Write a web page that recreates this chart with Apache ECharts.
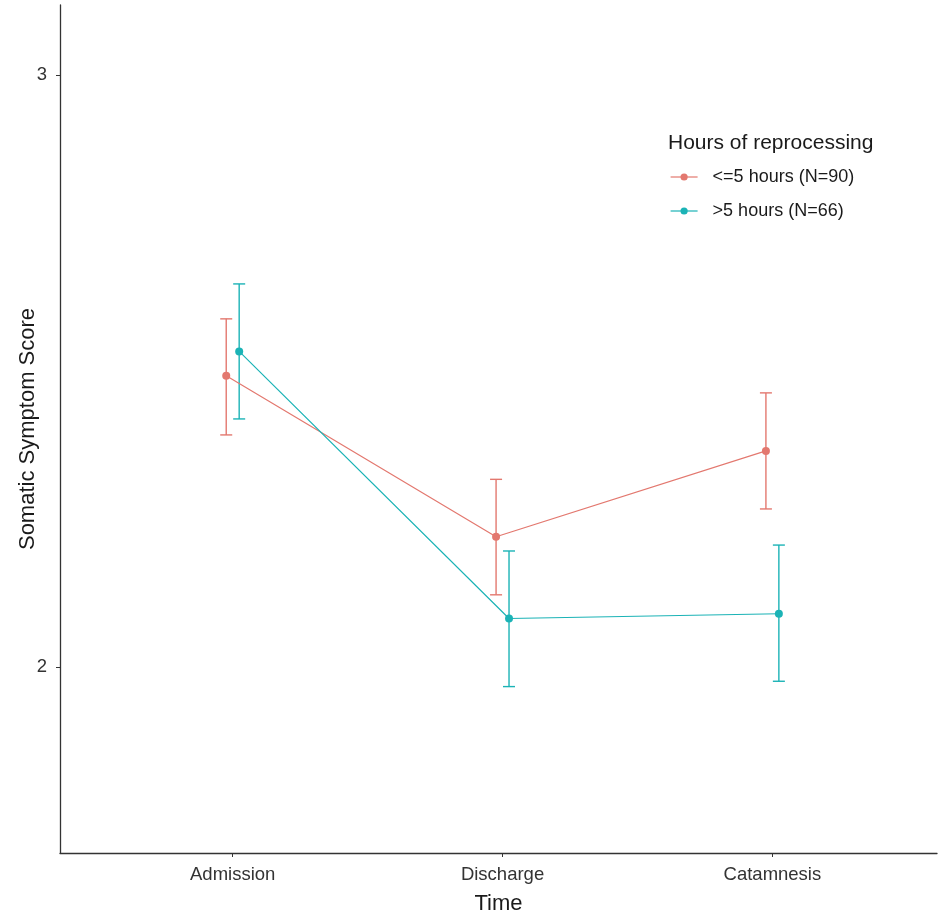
<!DOCTYPE html>
<html>
<head>
<meta charset="utf-8">
<script src="https://cdn.jsdelivr.net/npm/echarts@6/dist/echarts.min.js"></script>
<style>html,body{margin:0;padding:0;background:#fff}#c{width:939px;height:914px}</style>
</head>
<body>
<div id="c"></div>
<script>
const categories = ['Admission', 'Discharge', 'Catamnesis'];
const groupNames = ['<=5 hours (N=90)', '>5 hours (N=66)'];
const lowMean = [2.492, 2.220, 2.365];
const lowLower = [2.392, 2.122, 2.267];
const lowUpper = [2.588, 2.317, 2.463];
const highMean = [2.533, 2.082, 2.090];
const highLower = [2.419, 1.967, 1.976];
const highUpper = [2.647, 2.196, 2.206];
const yTicks = [2, 3];

const colors = ['#E3786F', '#1BB3B6'];
const DODGE = 0.024;
const FONT = 'Liberation Sans, Arial, sans-serif';

function pts(means, off) { return means.map((m, i) => [i + 1 + off, m]); }
function bars(lo, hi, off) { return lo.map((l, i) => [i + 1 + off, l, hi[i]]); }

function errSeries(data, color) {
  return {
    type: 'custom', silent: true, z: 2,
    data: data,
    renderItem: function (params, api) {
      const x = api.value(0);
      const a = api.coord([x, api.value(1)]);
      const b = api.coord([x, api.value(2)]);
      const hw = 6;
      const st = { stroke: color, lineWidth: 1.4, fill: null };
      return { type: 'group', children: [
        { type: 'line', shape: { x1: a[0], y1: a[1], x2: b[0], y2: b[1] }, style: st },
        { type: 'line', shape: { x1: a[0] - hw, y1: a[1], x2: a[0] + hw, y2: a[1] }, style: st },
        { type: 'line', shape: { x1: b[0] - hw, y1: b[1], x2: b[0] + hw, y2: b[1] }, style: st }
      ]};
    }
  };
}

const chart = echarts.init(document.getElementById('c'));
chart.setOption({
  backgroundColor: '#fff',
  animation: false,
  textStyle: { fontFamily: FONT },
  title: {
    text: 'Hours of reprocessing', left: 663, top: 128,
    textStyle: { fontFamily: FONT, fontSize: 21, fontWeight: 'normal', color: '#1a1a1a' }
  },
  legend: {
    orient: 'vertical', left: 665, top: 163, itemWidth: 27, itemHeight: 9, itemGap: 16,
    data: groupNames,
    lineStyle: { width: 1.2 },
    textStyle: { fontFamily: FONT, fontSize: 18, color: '#1a1a1a', padding: [0, 0, 0, 10] }
  },
  grid: { left: 60, right: 2, top: 5, bottom: 61, outerBoundsMode: 'none', containLabel: false },
  xAxis: {
    type: 'value', min: 0.36, max: 3.61,
    name: 'Time', nameLocation: 'middle', nameGap: 40, nameMoveOverlap: false,
    nameTextStyle: { fontFamily: FONT, fontSize: 22, color: '#1a1a1a' },
    axisLine: { show: true, lineStyle: { color: '#333', width: 1.3 } },
    axisTick: { show: true, customValues: [1, 2, 3], length: 4, lineStyle: { color: '#333' } },
    axisLabel: { customValues: [1, 2, 3], formatter: v => categories[Math.round(v) - 1] || '', fontSize: 18.5, color: '#333', margin: 12 },
    splitLine: { show: false }
  },
  yAxis: {
    type: 'value', min: 1.686, max: 3.118,
    name: 'Somatic Symptom Score', nameLocation: 'middle', nameGap: 21, nameRotate: 90, nameMoveOverlap: false,
    nameTextStyle: { fontFamily: FONT, fontSize: 22, color: '#1a1a1a' },
    axisLine: { show: true, lineStyle: { color: '#333', width: 1.3 } },
    axisTick: { show: true, customValues: yTicks, length: 4, lineStyle: { color: '#333' } },
    axisLabel: { customValues: yTicks, fontSize: 18.5, color: '#333', margin: 13 },
    splitLine: { show: false }
  },
  series: [
    errSeries(bars(lowLower, lowUpper, -DODGE), colors[0]),
    errSeries(bars(highLower, highUpper, DODGE), colors[1]),
    {
      name: groupNames[0], type: 'line', data: pts(lowMean, -DODGE), z: 3,
      symbol: 'circle', symbolSize: 8, color: colors[0],
      lineStyle: { width: 1.2, color: colors[0] }, itemStyle: { color: colors[0] }
    },
    {
      name: groupNames[1], type: 'line', data: pts(highMean, DODGE), z: 3,
      symbol: 'circle', symbolSize: 8, color: colors[1],
      lineStyle: { width: 1.2, color: colors[1] }, itemStyle: { color: colors[1] }
    }
  ]
});
</script>
</body>
</html>
